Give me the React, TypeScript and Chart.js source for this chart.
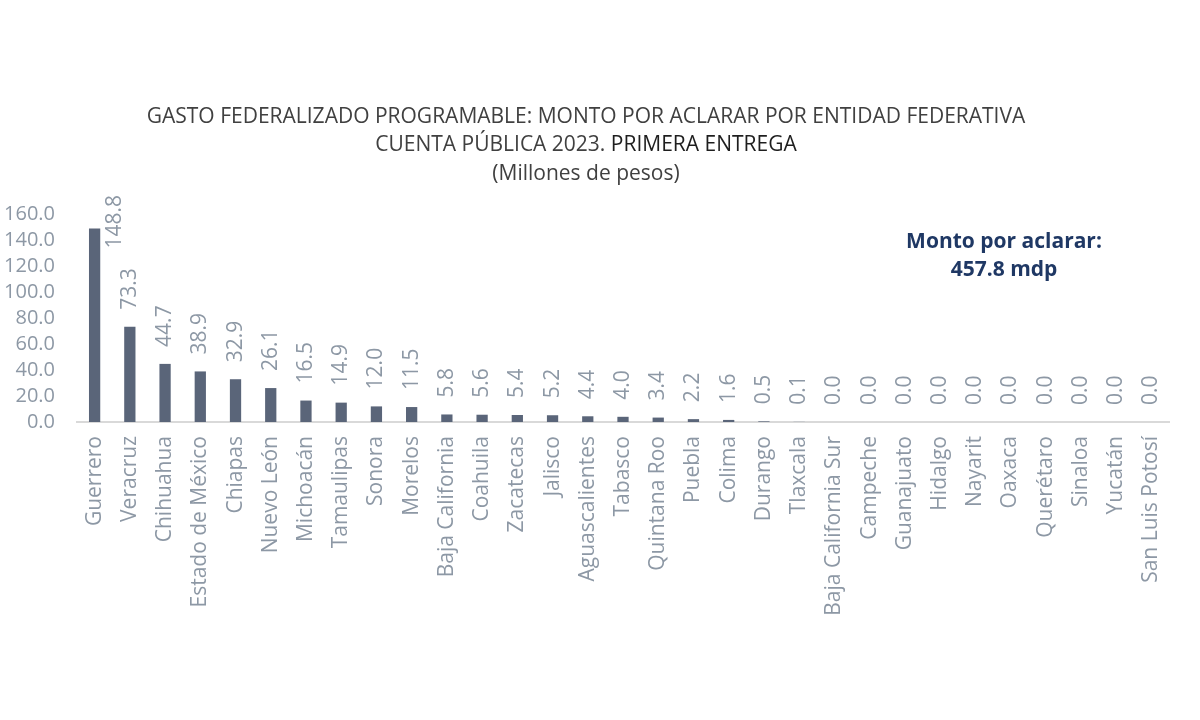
import React, { useEffect, useRef } from "react";
import { Chart, registerables } from "chart.js";

Chart.register(...registerables);

const categories: string[] = [
  "Guerrero", "Veracruz", "Chihuahua", "Estado de México", "Chiapas", "Nuevo León",
  "Michoacán", "Tamaulipas", "Sonora", "Morelos", "Baja California", "Coahuila",
  "Zacatecas", "Jalisco", "Aguascalientes", "Tabasco", "Quintana Roo", "Puebla",
  "Colima", "Durango", "Tlaxcala", "Baja California Sur", "Campeche", "Guanajuato",
  "Hidalgo", "Nayarit", "Oaxaca", "Querétaro", "Sinaloa", "Yucatán", "San Luis Potosí",
];

const montoPorAclarar: number[] = [
  148.8, 73.3, 44.7, 38.9, 32.9, 26.1, 16.5, 14.9, 12.0, 11.5, 5.8, 5.6, 5.4, 5.2,
  4.4, 4.0, 3.4, 2.2, 1.6, 0.5, 0.1, 0.0, 0.0, 0.0, 0.0, 0.0, 0.0, 0.0, 0.0, 0.0, 0.0,
];

const titleLines: string[] = [
  "GASTO FEDERALIZADO PROGRAMABLE: MONTO POR ACLARAR POR ENTIDAD FEDERATIVA",
  "CUENTA PÚBLICA 2023. ",
  "PRIMERA ENTREGA",
  "(Millones de pesos)",
];

const totalLines: string[] = ["Monto por aclarar:", "457.8 mdp"];

const FONT = "'Open Sans', 'Noto Sans', sans-serif";
const GRAY = "#8d98a5";

const textPlugin = {
  id: "textPlugin",
  afterDraw(chart: any) {
    const ctx = chart.ctx;
    const area = chart.chartArea;
    ctx.save();
    // Title
    const cx = 586;
    ctx.textBaseline = "middle";
    ctx.font = `21px ${FONT}`;
    ctx.fillStyle = "#404040";
    ctx.textAlign = "center";
    ctx.fillText(titleLines[0], cx, 117);
    const w1 = ctx.measureText(titleLines[1]).width;
    const w2 = ctx.measureText(titleLines[2]).width;
    const start = cx - (w1 + w2) / 2;
    ctx.textAlign = "left";
    ctx.fillText(titleLines[1], start, 145);
    ctx.fillStyle = "#1e1e1e";
    ctx.fillText(titleLines[2], start + w1, 145);
    ctx.fillStyle = "#404040";
    ctx.textAlign = "center";
    ctx.fillText(titleLines[3], cx, 174);

    // Total annotation
    ctx.font = `bold 21px ${FONT}`;
    ctx.fillStyle = "#1f3864";
    ctx.fillText(totalLines[0], 1004, 242);
    ctx.fillText(totalLines[1], 1004, 270);

    // Data labels
    const meta = chart.getDatasetMeta(0);
    ctx.font = `21px ${FONT}`;
    ctx.fillStyle = GRAY;
    ctx.textAlign = "left";
    ctx.textBaseline = "middle";
    const minTop = area.top - 19;
    meta.data.forEach((bar: any, i: number) => {
      const txt = montoPorAclarar[i].toFixed(1);
      const w = ctx.measureText(txt).width;
      let x = bar.x;
      let y = bar.y - 17;
      if (y - w < minTop) {
        x = bar.x + 20;
        y = minTop + w;
      }
      ctx.save();
      ctx.translate(x, y);
      ctx.rotate(-Math.PI / 2);
      ctx.fillText(txt, 0, 0);
      ctx.restore();
    });
    ctx.restore();
  },
};

export default function App() {
  const ref = useRef<HTMLCanvasElement | null>(null);
  useEffect(() => {
    document.body.style.margin = "0";
    const canvas = ref.current;
    if (!canvas) return;
    const chart = new Chart(canvas, {
      type: "bar",
      data: {
        labels: categories,
        datasets: [
          {
            data: montoPorAclarar,
            backgroundColor: "#5a6579",
            barPercentage: 0.32,
            categoryPercentage: 1,
          },
        ],
      },
      options: {
        animation: false,
        responsive: false,
        devicePixelRatio: 1,
        layout: { padding: { top: 214, left: 0, right: 31, bottom: 0 } },
        plugins: {
          legend: { display: false },
          title: { display: false },
          tooltip: { enabled: false },
        },
        scales: {
          x: {
            grid: { display: false, drawTicks: false },
            border: { display: true, color: "#d9d9d9", width: 2 },
            ticks: {
              autoSkip: false,
              minRotation: 90,
              maxRotation: 90,
              padding: 14,
              color: GRAY,
              font: { family: FONT, size: 21 },
            },
            afterFit: (scale: any) => {
              scale.height = 298;
            },
          },
          y: {
            min: 0,
            max: 160,
            grid: { display: false, drawTicks: false },
            border: { display: false },
            ticks: {
              autoSkip: false,
              stepSize: 20,
              padding: 22,
              color: GRAY,
              font: { family: FONT, size: 20 },
              callback: (v: any) => Number(v).toFixed(1),
            },
            afterFit: (scale: any) => {
              scale.width = 77;
            },
          },
        },
      },
      plugins: [textPlugin],
    });
    return () => chart.destroy();
  }, []);
  return (
    <div style={{ width: 1200, height: 720, background: "#ffffff" }}>
      <canvas ref={ref} width={1200} height={720} />
    </div>
  );
}
